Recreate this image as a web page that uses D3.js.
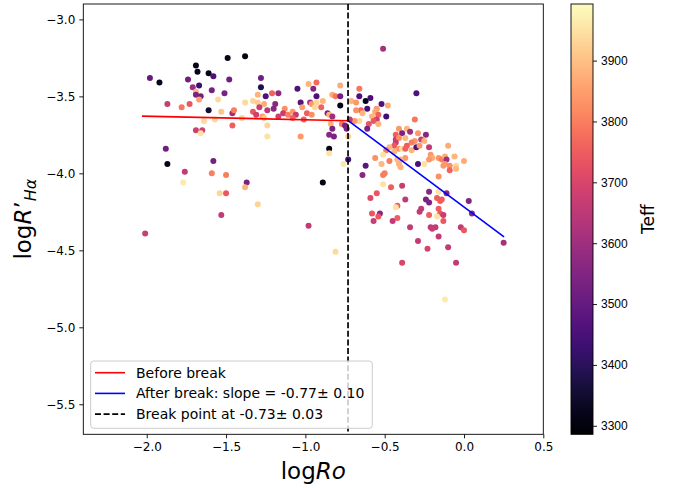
<!DOCTYPE html>
<html><head><meta charset="utf-8">
<script src="https://cdn.jsdelivr.net/npm/d3@7"></script>
<style>body{margin:0;background:#fff}svg{display:block;font-family:"DejaVu Sans",sans-serif}</style>
</head><body><svg id="c" width="678" height="488"></svg>
<script>
const logRo = [-1.98,-1.92,-1.87,-1.78,-1.73,-1.74,-1.71,-1.69,-1.68,-1.67,-1.69,-1.69,-1.66,-1.67,-1.61,-1.58,-1.59,-1.55,-1.61,-1.64,-1.69,-1.65,-1.66,-1.49,-1.38,-1.48,-1.51,-1.53,-1.57,-1.46,-1.45,-1.46,-1.40,-1.38,-1.33,-1.30,-1.30,-1.28,-1.28,-1.25,-1.26,-1.21,-1.17,-1.19,-1.20,-1.24,-1.29,-1.33,-1.31,-1.27,-1.26,-1.24,-1.24,-1.13,-1.14,-1.17,-1.11,-1.08,-1.06,-1.08,-1.05,-1.03,-1.02,-1.01,-1.03,-0.98,-0.93,-0.95,-0.97,-0.96,-0.93,-0.93,-0.89,-0.94,-0.90,-0.99,-0.96,-0.86,-0.85,-0.83,-0.84,-0.78,-0.83,-0.81,-0.78,-0.78,-0.77,-0.75,-0.83,-0.85,-0.82,-0.73,-0.85,-0.85,-0.76,-0.73,-1.88,-1.87,-1.58,-1.76,-1.77,-1.59,-1.50,-1.37,-1.38,-1.54,-1.50,-1.30,-1.53,-0.89,-2.01,-0.98,-0.81,-0.51,-0.30,-0.66,-0.66,-0.62,-0.59,-0.71,-0.68,-0.52,-0.48,-0.55,-0.56,-0.61,-0.65,-0.68,-0.64,-0.58,-0.54,-0.49,-0.55,-0.57,-0.60,-0.54,-0.61,-0.66,-0.69,-0.72,-0.74,-0.62,-0.64,-0.31,-0.41,-0.36,-0.34,-0.29,-0.43,-0.39,-0.37,-0.43,-0.41,-0.24,-0.27,-0.25,-0.31,-0.33,-0.36,-0.43,-0.44,-0.41,-0.39,-0.37,-0.33,-0.30,-0.28,-0.22,-0.47,-0.49,-0.44,-0.37,-0.40,-0.42,-0.47,-0.51,-0.52,-0.56,-0.41,-0.40,-0.29,-0.25,-0.21,-0.20,-0.22,-0.16,-0.14,-0.12,-0.11,-0.10,-0.06,-0.05,-0.05,0.00,-0.12,-0.13,-0.09,-0.09,-0.16,-0.50,-0.51,-0.51,-0.46,-0.39,-0.55,-0.59,-0.37,-0.42,-0.43,-0.53,-0.58,-0.22,-0.24,-0.22,-0.17,-0.15,-0.14,-0.11,-0.16,0.03,-0.27,-0.28,-0.22,-0.16,-0.15,-0.13,-0.17,0.05,-0.57,-0.54,-0.42,-0.45,-0.13,-0.34,-0.21,-0.18,-0.20,-0.16,-0.29,-0.23,-0.10,-0.39,-0.05,-0.02,0.00,0.25,-0.12];
const logRHa = [-3.38,-3.41,-3.55,-3.57,-3.55,-3.39,-3.44,-3.30,-3.34,-3.43,-3.47,-3.49,-3.50,-3.52,-3.35,-3.37,-3.46,-3.52,-3.59,-3.66,-3.72,-3.72,-3.74,-3.25,-3.24,-3.39,-3.48,-3.60,-3.65,-3.61,-3.59,-3.69,-3.64,-3.54,-3.53,-3.54,-3.49,-3.38,-3.44,-3.50,-3.55,-3.48,-3.48,-3.55,-3.58,-3.59,-3.57,-3.60,-3.62,-3.63,-3.64,-3.69,-3.76,-3.58,-3.61,-3.63,-3.62,-3.60,-3.62,-3.64,-3.45,-3.54,-3.57,-3.65,-3.76,-3.42,-3.41,-3.45,-3.54,-3.55,-3.50,-3.54,-3.53,-3.57,-3.57,-3.61,-3.62,-3.61,-3.62,-3.63,-3.68,-3.43,-3.49,-3.50,-3.50,-3.56,-3.68,-3.69,-3.71,-3.75,-3.76,-3.76,-3.84,-3.87,-3.94,-3.91,-3.84,-3.94,-3.92,-3.99,-4.06,-4.00,-4.01,-4.06,-4.09,-4.13,-4.13,-4.20,-4.27,-4.06,-4.39,-4.34,-4.51,-3.19,-3.48,-3.45,-3.50,-3.53,-3.51,-3.53,-3.54,-3.55,-3.56,-3.58,-3.60,-3.58,-3.59,-3.59,-3.61,-3.63,-3.62,-3.63,-3.65,-3.66,-3.68,-3.68,-3.71,-3.66,-3.66,-3.65,-3.71,-3.95,-4.01,-3.65,-3.71,-3.71,-3.73,-3.74,-3.75,-3.74,-3.77,-3.78,-3.77,-3.75,-3.78,-3.79,-3.79,-3.80,-3.82,-3.80,-3.82,-3.84,-3.84,-3.84,-3.85,-3.83,-3.82,-3.83,-3.83,-3.85,-3.86,-3.90,-3.91,-3.91,-3.92,-3.88,-3.94,-3.90,-3.94,-3.96,-3.94,-3.94,-3.88,-3.90,-3.91,-3.90,-3.91,-3.89,-3.91,-3.82,-3.89,-3.95,-3.97,-3.92,-3.94,-3.95,-3.95,-3.98,-4.02,-4.00,-4.01,-4.07,-4.09,-4.08,-4.13,-4.16,-4.17,-4.21,-4.22,-4.26,-4.26,-4.12,-4.17,-4.19,-4.16,-4.18,-4.17,-4.13,-4.12,-4.18,-4.23,-4.25,-4.27,-4.23,-4.26,-4.27,-4.28,-4.26,-4.31,-4.28,-4.29,-4.31,-4.31,-4.35,-4.35,-4.35,-4.36,-4.41,-4.44,-4.49,-4.48,-4.58,-4.58,-4.35,-4.37,-4.45,-4.82];
const teff = [3500,3320,3670,3790,3740,3520,3590,3320,3320,3430,3890,3540,3520,3850,3320,3460,3530,3940,3350,3940,3680,3680,3950,3320,3310,3520,3540,3910,3940,3600,3800,3750,3930,3940,3930,3920,3880,3520,3380,3460,3870,3760,3570,3560,3560,3650,3670,3740,3680,3840,3910,3930,3950,3830,3670,3680,3800,3840,3660,3760,3460,3470,3850,3750,3840,3880,3770,3560,3610,3840,3460,3930,3880,3940,3760,3750,3830,3540,3880,3600,3880,3870,3870,3790,3530,3310,3790,3530,3540,3560,3540,3920,3310,3950,3960,3440,3520,3320,3530,3660,3960,3800,3800,3540,3880,3930,3740,3930,3660,3310,3670,3660,3940,3610,3460,3790,3460,3320,3450,3880,3840,3460,3870,3840,3870,3450,3760,3830,3880,3880,3760,3440,3680,3740,3740,3880,3540,3940,3840,3660,3540,3480,3560,3790,3840,3880,3600,3840,3750,3540,3890,3670,3830,3560,3670,3880,3840,3800,3750,3670,3740,3840,3950,3760,3880,3460,3840,3660,3890,3800,3880,3840,3880,3890,3800,3950,3890,3830,3880,3880,3450,3950,3840,3870,3840,3840,3800,3870,3600,3870,3880,3940,3890,3870,3840,3840,3830,3760,3830,3800,3800,3950,3750,3670,3740,3710,3660,3750,3950,3560,3740,3560,3540,3540,3750,3750,3750,3560,3950,3550,3660,3660,3750,3750,3740,3670,3950,3560,3670,3740,3750,3660,3740,3660,3650,3660,3670,3660,3660,3700,3660,3700,3660,3660,3740,3610,3960];

const beforeX = [-2.03, -0.73], beforeY = [-3.628, -3.658];
const afterX = [-0.73, 0.2525], afterY = [-3.658, -4.412];
const breakX = -0.731;
const xTicks = [-2.0, -1.5, -1.0, -0.5, 0.0, 0.5];
const yTicks = [-3.0, -3.5, -4.0, -4.5, -5.0, -5.5];
const cTicks = [3300, 3400, 3500, 3600, 3700, 3800, 3900];
const legendLabels = ["Before break", "After break: slope = -0.77\u00b1 0.10", "Break point at -0.73\u00b1 0.03"];

const svg = d3.select("#c");
const L = 83.3, R = 543.3, T = 4, B = 434.3;
const x = d3.scaleLinear().domain([-2.4, 0.5]).range([L, R]);
const y = d3.scaleLinear().domain([-5.695, -2.9]).range([B, T]);
const cmin = 3286, cmax = 3993;
const col = d3.scaleSequential(d3.interpolateMagma).domain([cmin, cmax]);
const fmt = d3.format(".1f");

// points
const g = svg.append("g");
logRo.forEach((v, i) => {
  g.append("circle").attr("cx", x(v)).attr("cy", y(logRHa[i])).attr("r", 3.0)
   .attr("fill", col(teff[i]));
});
const line = d3.line().x(d => x(d[0])).y(d => y(d[1]));
svg.append("path").attr("d", line(d3.zip(beforeX, beforeY))).attr("stroke", "#ff0000").attr("stroke-width", 1.6).attr("fill", "none");
svg.append("path").attr("d", line(d3.zip(afterX, afterY))).attr("stroke", "#0000ff").attr("stroke-width", 1.6).attr("fill", "none");
svg.append("line").attr("x1", x(breakX)).attr("x2", x(breakX)).attr("y1", T).attr("y2", B)
  .attr("stroke", "#000").attr("stroke-width", 1.7).attr("stroke-dasharray", "6,2.6");

// axes
const xa = svg.append("g").attr("transform", `translate(0,${B})`)
  .call(d3.axisBottom(x).tickValues(xTicks).tickFormat(fmt).tickSize(4).tickPadding(4));
const ya = svg.append("g").attr("transform", `translate(${L},0)`)
  .call(d3.axisLeft(y).tickValues(yTicks).tickFormat(fmt).tickSize(4).tickPadding(4));
[xa, ya].forEach(a => {
  a.select(".domain").remove();
  a.selectAll("text").attr("font-size", 12).attr("fill", "#000").attr("font-family", "DejaVu Sans");
  a.selectAll("line").attr("stroke", "#000").attr("stroke-width", 0.9);
});
svg.append("rect").attr("x", L).attr("y", T).attr("width", R - L).attr("height", B - T)
  .attr("fill", "none").attr("stroke", "#000").attr("stroke-width", 0.9);

// axis labels
const xl = svg.append("text").attr("x", (L + R) / 2).attr("y", 479).attr("text-anchor", "middle").attr("font-size", 23);
xl.append("tspan").text("log");
xl.append("tspan").attr("font-style", "italic").text("Ro");
const yl = svg.append("text").attr("transform", `translate(31,${(T + B) / 2}) rotate(-90)`).attr("text-anchor", "middle").attr("font-size", 23);
yl.append("tspan").text("log");
yl.append("tspan").attr("font-style", "italic").text("R");
yl.append("tspan").text("\u2019");
yl.append("tspan").attr("font-style", "italic").attr("font-size", 16).attr("dy", 5).text("H\u03b1");

// legend
const lg = svg.append("g");
lg.append("rect").attr("x", 90.7).attr("y", 361).attr("width", 281.6).attr("height", 67.3).attr("rx", 3)
  .attr("fill", "#fff").attr("fill-opacity", 0.8).attr("stroke", "#cccccc").attr("stroke-width", 1);
const lcol = ["#ff0000", "#0000ff", "#000"];
legendLabels.forEach((t, i) => {
  const cy = 372.7 + i * 20.7;
  const ln = lg.append("line").attr("x1", 95).attr("x2", 125).attr("y1", cy).attr("y2", cy)
    .attr("stroke", lcol[i]).attr("stroke-width", 1.6);
  if (i === 2) ln.attr("stroke-dasharray", "6,2.6");
  lg.append("text").attr("x", 136).attr("y", cy + 5).attr("font-size", 14).text(t);
});

// colorbar
const cx0 = 571, cx1 = 593;
const cy = d3.scaleLinear().domain([cmin, cmax]).range([B, T]);
const defs = svg.append("defs");
const grad = defs.append("linearGradient").attr("id", "cg").attr("x1", 0).attr("y1", 1).attr("x2", 0).attr("y2", 0);
d3.range(0, 1.0001, 0.05).forEach(s => grad.append("stop").attr("offset", s).attr("stop-color", d3.interpolateMagma(s)));
svg.append("rect").attr("x", cx0).attr("y", T).attr("width", cx1 - cx0).attr("height", B - T)
  .attr("fill", "url(#cg)").attr("stroke", "#000").attr("stroke-width", 0.9);
const ca = svg.append("g").attr("transform", `translate(${cx1},0)`)
  .call(d3.axisRight(cy).tickValues(cTicks).tickFormat(d3.format("d")).tickSize(4).tickPadding(4));
ca.select(".domain").remove();
ca.selectAll("text").attr("font-size", 12).attr("fill", "#000");
ca.selectAll("line").attr("stroke", "#000").attr("stroke-width", 0.9);
svg.append("text").attr("transform", `translate(654,${(T + B) / 2}) rotate(-90)`).attr("text-anchor", "middle")
  .attr("font-size", 17).text("Teff");
</script></body></html>
